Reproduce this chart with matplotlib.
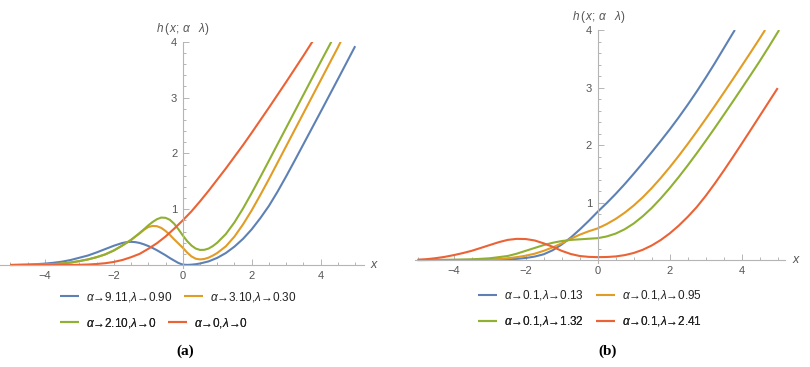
import numpy as np
import matplotlib
matplotlib.use("Agg")
import matplotlib.pyplot as plt
from matplotlib.ticker import MultipleLocator, FixedLocator

plt.rcParams['font.family'] = ['Liberation Sans', 'DejaVu Sans']
plt.rcParams['mathtext.fontset'] = 'custom'
plt.rcParams['mathtext.rm'] = 'Liberation Sans'
plt.rcParams['mathtext.it'] = 'Liberation Sans:italic'
plt.rcParams['mathtext.bf'] = 'Liberation Sans:bold'

# ---- panel (a) ----
a_blue_x = [-5, -4.75, -4.5, -4.25, -4, -3.75, -3.5, -3.25, -3, -2.75, -2.5, -2.25, -2, -1.875, -1.75,
            -1.625, -1.5, -1.375, -1.25, -1.125, -1, -0.875, -0.75, -0.625, -0.5, -0.375, -0.25, -0.125,
            0, 0.125, 0.25, 0.375, 0.5, 0.75, 1, 1.25, 1.5, 1.75, 2, 2.25, 2.5, 2.75, 3, 3.25, 3.5, 4, 4.5, 5]
a_blue_y = [0.0, 0.004, 0.008, 0.015, 0.025, 0.04, 0.06, 0.09, 0.13, 0.17, 0.225, 0.285, 0.345, 0.37, 0.395,
            0.41, 0.415, 0.41, 0.395, 0.37, 0.34, 0.305, 0.265, 0.22, 0.175, 0.125, 0.08, 0.036,
            0.008, 0.002, 0.006, 0.014, 0.027, 0.065, 0.128, 0.215, 0.33, 0.47, 0.64, 0.84, 1.06, 1.315, 1.59,
            1.875, 2.165, 2.745, 3.33, 3.92]

a_orange_x = [-5, -4.5, -4, -3.75, -3.5, -3.25, -3, -2.75, -2.5, -2.25, -2, -1.75, -1.5, -1.375, -1.25,
              -1.125, -1, -0.875, -0.75, -0.625, -0.5, -0.375, -0.25, -0.125, 0, 0.125, 0.25, 0.375, 0.5,
              0.625, 0.75, 0.875, 1, 1.25, 1.5, 1.75, 2, 2.25, 2.5, 2.75, 3, 3.5, 4, 4.5, 4.58]
a_orange_y = [0.0, 0.002, 0.008, 0.015, 0.027, 0.045, 0.07, 0.1, 0.14, 0.19, 0.26, 0.35, 0.45, 0.51, 0.565,
              0.63, 0.68, 0.70, 0.695, 0.665, 0.61, 0.54, 0.46, 0.385, 0.31, 0.225, 0.155, 0.113, 0.10,
              0.108, 0.132, 0.17, 0.215, 0.335, 0.51, 0.73, 0.98, 1.255, 1.54, 1.835, 2.13, 2.72, 3.31, 3.90, 4.0]

a_green_x = [-5, -4.5, -4, -3.75, -3.5, -3.25, -3, -2.75, -2.5, -2.25, -2, -1.75, -1.5, -1.375, -1.25,
             -1.125, -1, -0.875, -0.75, -0.625, -0.5, -0.375, -0.25, -0.125, 0, 0.125, 0.25, 0.375, 0.5,
             0.625, 0.75, 0.875, 1, 1.25, 1.5, 1.75, 2, 2.25, 2.5, 2.75, 3, 3.5, 4, 4.31]
a_green_y = [0.0, 0.002, 0.008, 0.015, 0.027, 0.045, 0.07, 0.1, 0.14, 0.19, 0.26, 0.35, 0.45, 0.51, 0.575,
             0.64, 0.71, 0.77, 0.82, 0.85, 0.845, 0.81, 0.74, 0.64, 0.53, 0.43, 0.35, 0.295, 0.27,
             0.272, 0.295, 0.34, 0.40, 0.555, 0.765, 1.015, 1.29, 1.5775, 1.87, 2.165, 2.46, 3.05, 3.64, 4.0]

a_red_x = [-5, -4.5, -4, -3.5, -3, -2.75, -2.5, -2.25, -2, -1.75, -1.5, -1.25, -1, -0.75, -0.5, -0.25, 0,
           0.25, 0.5, 0.75, 1, 1.25, 1.5, 1.75, 2, 2.5, 3, 3.5, 3.8]
a_red_y = [0.0, 0.0, 0.0, 0.001, 0.004, 0.009, 0.018, 0.032, 0.055, 0.09, 0.14, 0.20, 0.29, 0.39, 0.51, 0.65, 0.80,
           0.96, 1.14, 1.33, 1.53, 1.73, 1.94, 2.15, 2.37, 2.82, 3.28, 3.75, 4.04]

a_labels = [r'$\alpha$→9.11,$\lambda$→0.90', r'$\alpha$→3.10,$\lambda$→0.30',
            r'$\alpha$→2.10,$\lambda$→0', r'$\alpha$→0,$\lambda$→0']

# ---- panel (b) ----
b_blue_x = [-5, -3, -2.75, -2.5, -2.25, -2, -1.75, -1.5, -1.25, -1, -0.75, -0.5, -0.25, 0, 0.25, 0.5,
            0.75, 1, 1.25, 1.5, 1.75, 2, 2.25, 2.5, 2.75, 3, 3.25, 3.5, 3.75, 3.81]
b_blue_y = [0.0, 0.003, 0.006, 0.012, 0.02, 0.035, 0.06, 0.1, 0.17, 0.27, 0.39, 0.53, 0.68, 0.84, 0.99, 1.15,
            1.32, 1.5, 1.685, 1.875, 2.07, 2.27, 2.48, 2.7, 2.93, 3.17, 3.42, 3.68, 3.94, 4.0]

b_orange_x = [-5, -3.5, -3, -2.75, -2.5, -2.25, -2, -1.75, -1.5, -1.25, -1, -0.75, -0.5, -0.25, 0, 0.25,
              0.5, 0.75, 1, 1.25, 1.5, 1.75, 2, 2.25, 2.5, 2.75, 3, 3.25, 3.5, 3.75, 4, 4.25, 4.5, 4.65]
b_orange_y = [0.0, 0.002, 0.01, 0.018, 0.03, 0.05, 0.075, 0.11, 0.16, 0.22, 0.29, 0.37, 0.44, 0.5, 0.55, 0.625,
              0.715, 0.8225, 0.9475, 1.09, 1.25, 1.425, 1.6125, 1.81, 2.0175, 2.2325, 2.4525, 2.6775, 2.9075,
              3.14, 3.375, 3.6125, 3.8525, 4.0]

b_green_x = [-5, -4, -3.5, -3, -2.5, -2.25, -2, -1.75, -1.5, -1.25, -1, -0.75, -0.5, -0.25, 0, 0.25, 0.5,
             0.75, 1, 1.25, 1.5, 1.75, 2, 2.25, 2.5, 2.75, 3, 3.25, 3.5, 3.75, 4, 4.25, 4.5, 4.75, 5, 5.04]
b_green_y = [0.0, 0.003, 0.012, 0.03, 0.07, 0.11, 0.16, 0.21, 0.26, 0.30, 0.33, 0.35, 0.36, 0.37, 0.38, 0.41, 0.46,
             0.535, 0.635, 0.76, 0.905, 1.07, 1.25, 1.4425, 1.645, 1.855, 2.0725, 2.295, 2.5225, 2.7525, 2.985,
             3.22, 3.4575, 3.705, 3.96, 4.0]

b_red_x = [-5, -4.75, -4.5, -4.25, -4, -3.75, -3.5, -3.25, -3, -2.75, -2.5, -2.25, -2, -1.75, -1.5, -1.25,
           -1, -0.75, -0.5, -0.25, 0, 0.25, 0.5, 0.75, 1, 1.25, 1.5, 1.75, 2, 2.25, 2.5, 2.75, 3, 3.25, 3.5,
           3.75, 4, 4.25, 4.5, 4.75, 5]
b_red_y = [0.005, 0.015, 0.032, 0.055, 0.085, 0.12, 0.16, 0.21, 0.26, 0.31, 0.35, 0.368, 0.365, 0.34, 0.29, 0.23,
           0.16, 0.105, 0.07, 0.055, 0.05, 0.0525, 0.0625, 0.085, 0.1225, 0.1775, 0.2525, 0.3475, 0.4625, 0.5975,
           0.75, 0.92, 1.115, 1.3275, 1.5525, 1.785, 2.0225, 2.2625, 2.505, 2.7475, 2.99]

b_labels = [r'$\alpha$→0.1,$\lambda$→0.13', r'$\alpha$→0.1,$\lambda$→0.95',
            r'$\alpha$→0.1,$\lambda$→1.32', r'$\alpha$→0.1,$\lambda$→2.41']

colors = ['#5E81B5', '#E19C24', '#8FB032', '#EB6235']
x_ticks = [-4, -2, 0, 2, 4]
y_ticks = [1, 2, 3, 4]

W, H = 810, 367
fig = plt.figure(figsize=(W / 100, H / 100), dpi=100)


def px(x0, y0, x1, y1):
    # pixel box -> figure rect
    return [x0 / W, 1 - y1 / H, (x1 - x0) / W, (y1 - y0) / H]


def style_axes(ax, xlim):
    ax.set_xlim(*xlim)
    ax.set_ylim(-0.05, 4)
    for s in ['top', 'right']:
        ax.spines[s].set_visible(False)
    ax.spines['left'].set_position(('data', 0))
    ax.spines['bottom'].set_position(('data', 0))
    for s in ['left', 'bottom']:
        ax.spines[s].set_color('#b5b5b5')
        ax.spines[s].set_linewidth(0.8)
    ax.xaxis.set_major_locator(FixedLocator(x_ticks))
    ax.xaxis.set_minor_locator(MultipleLocator(0.5))
    ax.yaxis.set_major_locator(FixedLocator(y_ticks))
    ax.yaxis.set_minor_locator(MultipleLocator(0.2))
    ax.set_xticklabels([str(t).replace('-', '−') for t in x_ticks])
    ax.tick_params(which='both', direction='in', color='#b5b5b5', width=0.7,
                   labelsize=8, labelcolor='#555555')
    ax.tick_params(which='major', length=4, pad=4)
    ax.tick_params(which='minor', length=2.2)
    ax.patch.set_alpha(0)


def legend_rows(ax, lines, labels, x0, rows_y):
    for i, ry in enumerate(rows_y):
        lg = ax.legend(lines[2 * i:2 * i + 2], labels[2 * i:2 * i + 2], ncol=2,
                       loc='center left', bbox_to_anchor=(x0 / W, 1 - ry / H),
                       bbox_transform=fig.transFigure, frameon=False, fontsize=8.5,
                       handlelength=1.6, handletextpad=0.6, columnspacing=1.0,
                       borderpad=0, borderaxespad=0, labelcolor='#222222')
        ax.add_artist(lg)


# panel (a)
ax1 = fig.add_axes(px(0, 41.7, 363.8, 267.8))
style_axes(ax1, (-5.3, 5.25))
l1 = []
for xs, ys, c in zip([a_blue_x, a_orange_x, a_green_x, a_red_x],
                     [a_blue_y, a_orange_y, a_green_y, a_red_y], colors):
    l1 += ax1.plot(xs, ys, color=c, lw=1.5, solid_capstyle='butt', solid_joinstyle='round')
legend_rows(ax1, l1, a_labels, 60, [296.5, 322.5])
fig.text(182.7 / W, 1 - 29 / H, r'$h\,(\,x;\,\alpha\ \ \ \lambda)$', ha='center', va='center',
         fontsize=8.5, color='#555555')
fig.text(375 / W, 1 - 265 / H, r'$x$', ha='center', va='center', fontsize=9, color='#555555')
fig.text(185 / W, 1 - 351 / H, '(a)', ha='center', va='center', fontsize=11,
         family='Liberation Serif', weight='bold')

# panel (b)
ax2 = fig.add_axes(px(414.8, 30, 784.9, 262.9))
style_axes(ax2, (-5.08, 5.2))
l2 = []
for xs, ys, c in zip([b_blue_x, b_orange_x, b_green_x, b_red_x],
                     [b_blue_y, b_orange_y, b_green_y, b_red_y], colors):
    l2 += ax2.plot(xs, ys, color=c, lw=1.5, solid_capstyle='butt', solid_joinstyle='round')
legend_rows(ax2, l2, b_labels, 478, [295.5, 321.5])
fig.text(599 / W, 1 - 17 / H, r'$h\,(\,x;\,\alpha\ \ \ \lambda)$', ha='center', va='center',
         fontsize=8.5, color='#555555')
fig.text(796.7 / W, 1 - 260 / H, r'$x$', ha='center', va='center', fontsize=9, color='#555555')
fig.text(608 / W, 1 - 351 / H, '(b)', ha='center', va='center', fontsize=11,
         family='Liberation Serif', weight='bold')

fig.savefig('out.png', dpi=100)
